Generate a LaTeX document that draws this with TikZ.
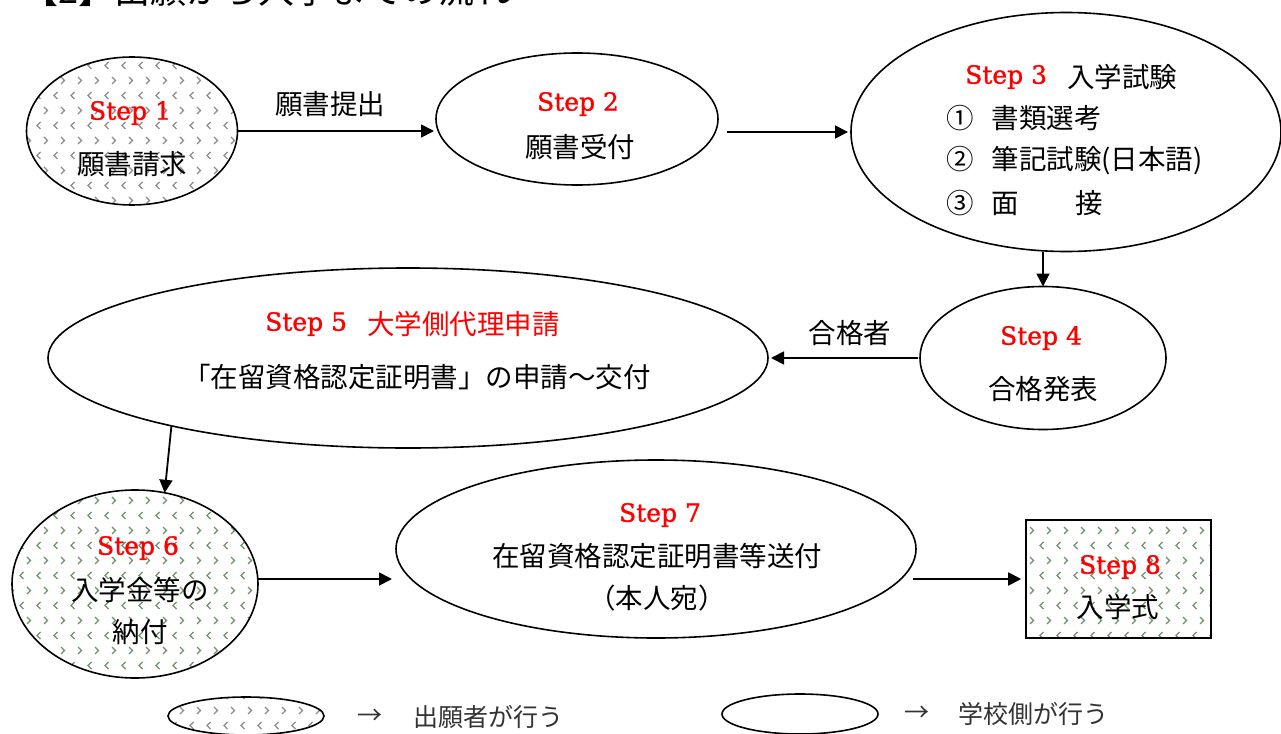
\documentclass[tikz,border=0pt]{standalone}
\usepackage{fontspec}
\setmainfont{Liberation Serif}
\newfontfamily\jp{Noto Sans CJK JP}
\newfontfamily\stp[FakeBold=1.3]{DejaVu Serif}
\usetikzlibrary{patterns,arrows.meta,shapes.geometric}
\definecolor{patgray}{RGB}{140,140,140}
\definecolor{patgreen}{RGB}{110,145,110}
\definecolor{stepred}{RGB}{255,0,0}
\pgfdeclarepatternformonly{chev}{\pgfqpoint{-1pt}{-1pt}}{\pgfqpoint{18pt}{31pt}}{\pgfqpoint{17pt}{30pt}}{%
  \pgfsetlinewidth{1.3pt}%
  \pgfpathmoveto{\pgfqpoint{6.5pt}{4pt}}\pgfpathlineto{\pgfqpoint{3pt}{7.5pt}}\pgfpathlineto{\pgfqpoint{6.5pt}{11pt}}%
  \pgfpathmoveto{\pgfqpoint{10pt}{19pt}}\pgfpathlineto{\pgfqpoint{13.5pt}{22.5pt}}\pgfpathlineto{\pgfqpoint{10pt}{26pt}}%
  \pgfusepath{stroke}%
}
\tikzset{
  ell/.style={draw, line width=1.6pt, ellipse, inner sep=0pt, outer sep=0pt},
  patg/.style={pattern=chev, pattern color=patgray},
  patgr/.style={pattern=chev, pattern color=patgreen},
  jt/.style={font=\jp\fontsize{27.5}{32}\selectfont, inner sep=0pt},
  st/.style={font=\stp\fontsize{25}{30}\selectfont, text=stepred, inner sep=0pt},
  lg/.style={font=\jp\fontsize{25}{30}\selectfont, inner sep=0pt, text=black!80},
  arr/.style={line width=1.8pt, -{Triangle[length=13pt,width=13pt]}},
}
\begin{document}
\begin{tikzpicture}[x=1pt,y=-1pt]
\useasboundingbox (0,0) rectangle (1281,733);
\fill[white] (0,0) rectangle (1281,733);

% title (cut off at top, as in the reference)
\node[font=\jp\fontsize{36}{40}\selectfont, inner sep=0pt, anchor=base west] (title) at (22,4) {【2】出願から入学までの流れ};

% shapes
\node[ell, patg, minimum width=211pt, minimum height=148pt] (e1) at (132,131) {};
\node[ell, minimum width=282pt, minimum height=132pt] (e2) at (577,119) {};
\node[ell, minimum width=430pt, minimum height=239pt] (e3) at (1066,132) {};
\node[ell, minimum width=246pt, minimum height=143pt] (e4) at (1043,358) {};
\node[ell, minimum width=720pt, minimum height=180pt] (e5) at (408,358) {};
\node[ell, patgr, minimum width=246pt, minimum height=188pt] (e6) at (135,584) {};
\node[ell, minimum width=520pt, minimum height=178pt] (e7) at (656,549) {};
\node[draw, line width=1.6pt, patgr, minimum width=185pt, minimum height=118pt, inner sep=0pt] (r8) at (1118.5,579) {};

% texts
\node[st] (s1) at (130,113) {Step 1};
\node[jt] (t1) at (132,164) {願書請求};
\node[st] (s2) at (578,104) {Step 2};
\node[jt] (t2) at (580,147) {願書受付};
\node[st, anchor=west] (s3) at (965,77) {Step 3};
\node[jt, anchor=west] (t3) at (1067,77) {入学試験};
\node[jt, anchor=west] (t3a) at (946,118) {①\hspace{18pt}書類選考};
\node[jt, anchor=west] (t3b) at (946,161) {②\hspace{18pt}筆記試験(日本語)};
\node[jt, anchor=west] (t3c) at (946,203) {③\hspace{18pt}面\hspace{56pt}接};
\node[st] (s4) at (1041,338) {Step 4};
\node[jt] (t4) at (1043,389) {合格発表};
\node[st, anchor=west] (s5) at (265,324) {Step 5};
\node[jt, anchor=west, text=stepred] (t5) at (367,324) {大学側代理申請};
\node[jt] (t5b) at (417,377) {「在留資格認定証明書」の申請～交付};
\node[st] (s6) at (138,548) {Step 6};
\node[jt] (t6) at (140,590) {入学金等の};
\node[jt] (t6b) at (140,632) {納付};
\node[st] (s7) at (660,515) {Step 7};
\node[jt] (t7) at (657,556) {在留資格認定証明書等送付};
\node[jt] (t7b) at (657,598) {（本人宛）};
\node[st] (s8) at (1120,567) {Step 8};
\node[jt] (t8) at (1118,607) {入学式};

% connectors
\draw[arr] (e1.east) -- ([xshift=-2pt]e1.east -| e2.west);
\node[jt] (l12) at (330,104) {願書提出};
\draw[arr] ([xshift=9pt]e2.east |- e3.west) -- ([xshift=-3pt]e3.west);
\draw[arr] (e4.north |- e3.south) -- (e4.north);
\draw[arr] ([xshift=-2pt]e4.west) -- ([xshift=3pt]e5.east);
\node[jt] (l45) at (850,333) {合格者};
\draw[arr] (e5.196.5) -- (e6.72.7);
\draw[arr] ([yshift=5pt]e6.east) -- ([xshift=-4pt,yshift=5pt]e6.east -| e7.west);
\draw[arr] ([xshift=-3pt]e7.east |- r8.west) -- ([xshift=-4pt]r8.west);

% legend
\node[ell, patg, minimum width=156pt, minimum height=38pt] (lg1) at (246,716) {};
\node[lg] (la1) at (370,717) {→};
\node[lg, anchor=west] (lt1) at (413,717) {出願者が行う};
\node[ell, minimum width=156pt, minimum height=40pt] (lg2) at (800,714) {};
\node[lg] (la2) at (917,714) {→};
\node[lg, anchor=west] (lt2) at (958,714) {学校側が行う};
\end{tikzpicture}
\end{document}
